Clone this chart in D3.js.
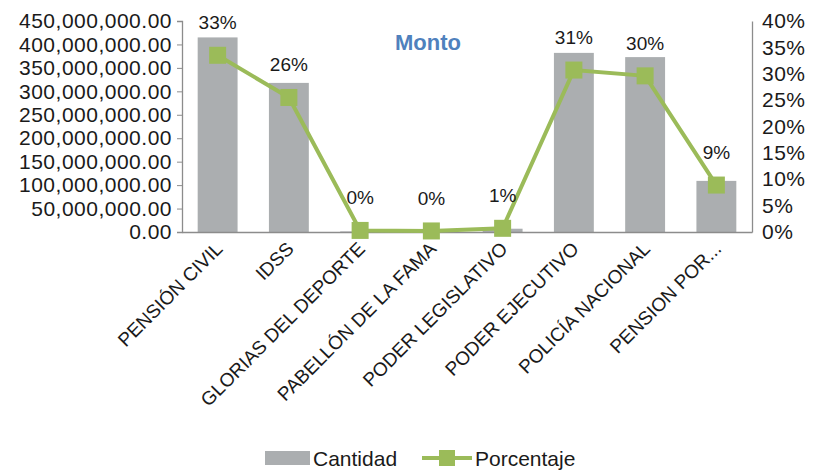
<!DOCTYPE html>
<html>
<head>
<meta charset="utf-8">
<script src="https://cdn.jsdelivr.net/npm/d3@7"></script>
<style>
  body { margin: 0; background: #fff; }
  text { font-family: "Liberation Sans", Arial, sans-serif; fill: #1a1a1a; }
</style>
</head>
<body>
<svg id="svg" width="816" height="470"></svg>
<script>
// data
var categories = ["PENSIÓN CIVIL", "IDSS", "GLORIAS DEL DEPORTE", "PABELLÓN DE LA FAMA",
                  "PODER LEGISLATIVO", "PODER EJECUTIVO", "POLICÍA NACIONAL", "PENSION POR..."];
var cantidad = [415000000, 318000000, 1200000, 500000, 7000000, 382000000, 373000000, 109000000];
var porcentaje = [0.335, 0.255, 0.003, 0.002, 0.007, 0.307, 0.296, 0.089];
var pctLabels = ["33%", "26%", "0%", "0%", "1%", "31%", "30%", "9%"];
var leftTicks = [0, 50e6, 100e6, 150e6, 200e6, 250e6, 300e6, 350e6, 400e6, 450e6];
var rightTicks = [0, 0.05, 0.1, 0.15, 0.2, 0.25, 0.3, 0.35, 0.4];

var svg = d3.select("#svg");
var pLeft = 182, pRight = 752, pTop = 21, pBottom = 232;

var x = d3.scaleBand().domain(categories).range([pLeft, pRight]).paddingInner(0.44).paddingOuter(0.22);
var yL = d3.scaleLinear().domain([0, 450e6]).range([pBottom, pTop]);
var yR = d3.scaleLinear().domain([0, 0.4]).range([pBottom, pTop]);

var fmt = d3.format(",.2f");

// bars
svg.selectAll("rect.bar")
    .data(cantidad)
    .enter().append("rect")
    .attr("class", "bar")
    .attr("x", function(d, i) { return x(categories[i]); })
    .attr("width", x.bandwidth())
    .attr("y", function(d) { return yL(d); })
    .attr("height", function(d) { return pBottom - yL(d); })
    .attr("fill", "#abaeb0");

// axes
var axL = svg.append("g").attr("transform", "translate(" + pLeft + ",0)")
    .call(d3.axisLeft(yL).tickValues(leftTicks).tickFormat(fmt).tickSize(5).tickPadding(5));
var axR = svg.append("g").attr("transform", "translate(" + pRight + ",0)")
    .call(d3.axisRight(yR).tickValues(rightTicks).tickFormat(d3.format(".0%")).tickSize(0).tickPadding(10));
var axB = svg.append("g").attr("transform", "translate(0," + pBottom + ")")
    .call(d3.axisBottom(x).tickSize(0).tickPadding(0));

[axL, axR, axB].forEach(function(a) {
  a.select(".domain").attr("stroke", "#8c8c8c").attr("stroke-width", 1.3);
  a.selectAll(".tick line").attr("stroke", "#8c8c8c");
});
axL.selectAll(".tick text").attr("font-size", "21px").attr("fill", "#1a1a1a")
   .attr("letter-spacing", "0.5px")
   .attr("font-family", "Liberation Sans, Arial, sans-serif");
axR.selectAll(".tick text").attr("font-size", "21px").attr("fill", "#1a1a1a")
   .attr("letter-spacing", "0.5px")
   .attr("font-family", "Liberation Sans, Arial, sans-serif");
axB.selectAll(".tick text")
   .attr("font-size", "19px").attr("fill", "#1a1a1a")
   .attr("font-family", "Liberation Sans, Arial, sans-serif")
   .attr("text-anchor", "end")
   .attr("dy", "0")
   .attr("transform", "translate(6,18) rotate(-45)");

// line
var line = d3.line()
    .x(function(d, i) { return x(categories[i]) + x.bandwidth() / 2; })
    .y(function(d) { return yR(d); });

svg.append("path")
    .datum(porcentaje)
    .attr("d", line)
    .attr("fill", "none")
    .attr("stroke", "#9bbb59")
    .attr("stroke-width", 4);

svg.selectAll("rect.marker")
    .data(porcentaje)
    .enter().append("rect")
    .attr("class", "marker")
    .attr("x", function(d, i) { return x(categories[i]) + x.bandwidth() / 2 - 8.5; })
    .attr("y", function(d) { return yR(d) - 8.5; })
    .attr("width", 17).attr("height", 17)
    .attr("fill", "#9bbb59");

// labels
svg.selectAll("text.lbl")
    .data(porcentaje)
    .enter().append("text")
    .attr("class", "lbl")
    .attr("x", function(d, i) { return x(categories[i]) + x.bandwidth() / 2; })
    .attr("y", function(d) { return yR(d) - 26; })
    .attr("text-anchor", "middle")
    .attr("font-size", "19px")
    .text(function(d, i) { return pctLabels[i]; });

// title
svg.append("text")
    .attr("x", 428).attr("y", 50)
    .attr("text-anchor", "middle")
    .attr("font-size", "22px").attr("font-weight", "bold")
    .style("fill", "#4f81bd")
    .text("Monto");

// legend
var lg = svg.append("g");
lg.append("rect").attr("x", 265).attr("y", 451).attr("width", 45).attr("height", 14).attr("fill", "#abaeb0");
lg.append("text").attr("x", 313).attr("y", 466).attr("font-size", "21px").text("Cantidad");
lg.append("line").attr("x1", 422).attr("x2", 472).attr("y1", 458).attr("y2", 458)
  .attr("stroke", "#9bbb59").attr("stroke-width", 4);
lg.append("rect").attr("x", 439).attr("y", 450).attr("width", 16).attr("height", 16).attr("fill", "#9bbb59");
lg.append("text").attr("x", 475).attr("y", 466).attr("font-size", "21px").text("Porcentaje");
</script>
</body>
</html>
